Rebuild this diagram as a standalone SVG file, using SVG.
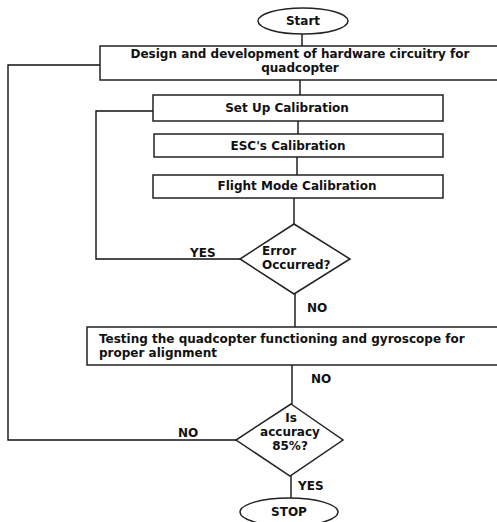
<svg xmlns="http://www.w3.org/2000/svg" width="497" height="522" viewBox="0 0 497 522">
<style>
.s{fill:#fff;stroke:#222;stroke-width:1.5}
.c{fill:none;stroke:#111;stroke-width:1.4}
text{font-family:"DejaVu Sans","Liberation Sans",Arial,sans-serif;font-weight:bold;font-size:12px;fill:#111}
.m{text-anchor:middle}
</style>
<rect width="497" height="522" fill="#fff"/>
<g id="connectors">
<line class="c" x1="302" y1="34" x2="302" y2="46"/>
<line class="c" x1="300" y1="80" x2="300" y2="95"/>
<line class="c" x1="298" y1="121" x2="298" y2="134"/>
<line class="c" x1="297" y1="157" x2="297" y2="175"/>
<line class="c" x1="294" y1="198" x2="294" y2="224"/>
<line class="c" x1="295" y1="294" x2="295" y2="327"/>
<line class="c" x1="292" y1="365" x2="292" y2="404"/>
<line class="c" x1="291" y1="476" x2="291" y2="498"/>
<polyline class="c" points="100,65 8,65 8,440 236,440"/>
<polyline class="c" points="153,111 96,111 96,259 240,259"/>
<text x="190" y="257">YES</text>
<text x="307" y="312">NO</text>
<text x="311" y="383">NO</text>
<text x="178" y="437">NO</text>
<text x="298" y="490">YES</text>
</g>
<g id="start">
<ellipse class="s" cx="303" cy="21" rx="45" ry="13"/>
<text class="m" x="303" y="25">Start</text>
</g>
<g id="design">
<rect class="s" x="100" y="46" width="400" height="34"/>
<text class="m" x="300" y="58">Design and development of hardware circuitry for</text>
<text class="m" x="300" y="72">quadcopter</text>
</g>
<g id="setup">
<rect class="s" x="153" y="95" width="290" height="26"/>
<text class="m" x="287" y="112">Set Up Calibration</text>
</g>
<g id="esc">
<rect class="s" x="154" y="134" width="289" height="23"/>
<text class="m" x="288" y="150">ESC's Calibration</text>
</g>
<g id="flight">
<rect class="s" x="153" y="175" width="290" height="23"/>
<text class="m" x="297" y="190">Flight Mode Calibration</text>
</g>
<g id="error">
<polygon class="s" points="294,224 350,259 294,294 240,259"/>
<text x="262" y="255">Error</text>
<text x="262" y="269">Occurred?</text>
</g>
<g id="testing">
<rect class="s" x="87" y="327" width="412" height="38"/>
<text x="99" y="343">Testing the quadcopter functioning and gyroscope for</text>
<text x="99" y="357">proper alignment</text>
</g>
<g id="accuracy">
<polygon class="s" points="291,404 343,440 290,476 236,440"/>
<text class="m" x="291" y="422">Is</text>
<text class="m" x="290" y="436">accuracy</text>
<text class="m" x="290" y="450">85%?</text>
</g>
<g id="stop">
<ellipse class="s" cx="289" cy="512" rx="49" ry="14"/>
<text class="m" x="289" y="516">STOP</text>
</g>
</svg>
